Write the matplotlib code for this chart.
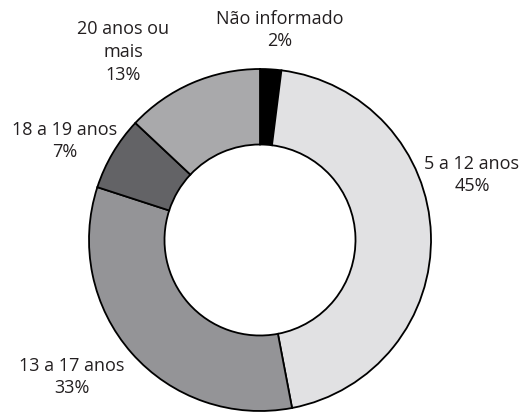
import matplotlib.pyplot as plt

# dados
categorias = ['Não informado', '5 a 12 anos', '13 a 17 anos', '18 a 19 anos', '20 anos ou\nmais']
valores = [2, 45, 33, 7, 13]
cores = ['#000000', '#e1e1e3', '#949497', '#636366', '#a9a9ab']

plt.rcParams['font.family'] = ['Open Sans', 'DejaVu Sans']

fig = plt.figure(figsize=(5.25, 4.12), dpi=100)
ax = fig.add_axes([0, 0, 1, 1])

ax.pie(valores, colors=cores, startangle=90, counterclock=False,
       center=(260, 172), radius=171,
       wedgeprops=dict(width=75.5, edgecolor='black', linewidth=1.3))

# pie() mexe nos limites, entao ajusta depois
ax.set_xlim(0, 525)
ax.set_ylim(0, 412)
ax.set_aspect('equal')
ax.axis('off')

# posições dos rótulos (pixels, y de baixo pra cima)
pos = [(280, 382), (472, 237), (72, 35), (65, 271), (123, 360)]
for cat, v, (x, y) in zip(categorias, valores, pos):
    ax.text(x, y, f'{cat}\n{v}%', ha='center', va='center', fontsize=13,
            linespacing=1.35, color='#231f20')

fig.savefig('out.png', dpi=100)
